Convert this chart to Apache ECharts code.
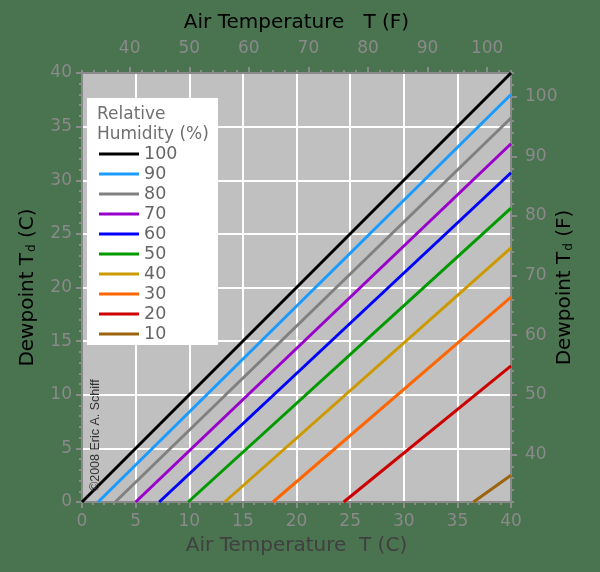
<!DOCTYPE html>
<html><head><meta charset="utf-8">
<script src="https://cdn.jsdelivr.net/npm/echarts@6/dist/echarts.min.js"></script>
<style>html,body{margin:0;padding:0;background:#4a7350}#c{width:600px;height:572px}</style>
</head><body><div id="c"></div>
<script>
// Relative humidity levels (legend order)
const rhLevels = ['100', '90', '80', '70', '60', '50', '40', '30', '20', '10'];
// Air temperature (C) where each line crosses dewpoint 0 C
const startT = [0, 1.5, 3.1, 5.0, 7.2, 9.9, 13.3, 17.8, 24.4, 36.5];
// Dewpoint (C) of each line at air temperature 40 C
const endTd = [40, 38.0, 35.8, 33.4, 30.7, 27.4, 23.7, 19.1, 12.7, 2.5];
const endT = 40;
const lineColors = ['#000000', '#1a9bff', '#808080', '#9900cc', '#0000ff', '#009900', '#cc9900', '#ff6600', '#cc0000', '#9c640c'];
// Fahrenheit tick labels and minor ticks
const fahrenheitLabels = [40, 50, 60, 70, 80, 90, 100];
const fahrenheitMinor = [32, 34, 36, 38, 40, 42, 44, 46, 48, 50, 52, 54, 56, 58, 60, 62, 64, 66, 68, 70, 72, 74, 76, 78, 80, 82, 84, 86, 88, 90, 92, 94, 96, 98, 100, 102, 104];

const FONT = 'DejaVu Sans';
const AX = '#8a8a8a';
const axLine = { show: true, lineStyle: { color: AX, width: 2 } };
const lbl = { color: AX, fontSize: 17, fontFamily: FONT };

const chart = echarts.init(document.getElementById('c'), null, { renderer: 'canvas' });

const series = rhLevels.map((rh, i) => ({
  name: rh,
  type: 'line',
  xAxisIndex: 0,
  yAxisIndex: 0,
  data: [[startT[i], 0], [endT, endTd[i]]],
  showSymbol: false,
  symbol: 'none',
  color: lineColors[i],
  lineStyle: { color: lineColors[i], width: 3 },
  animation: false,
  z: 3
}));

const cAxisBase = {
  type: 'value', min: 0, max: 40, interval: 5,
  axisLine: axLine,
  axisTick: { show: true, inside: false, length: 6, lineStyle: { color: AX, width: 2 } },
  minorTick: { show: true, splitNumber: 5, length: 3, lineStyle: { color: AX, width: 2 } },
  splitLine: { show: true, lineStyle: { color: '#ffffff', width: 2 } },
  minorSplitLine: { show: false }
};

const subRich = {
  sub: { fontSize: 12, fontFamily: FONT, color: '#000', verticalAlign: 'bottom', lineHeight: 12, padding: [0, 0, 0, 1] }
};

const option = {
  backgroundColor: '#4a7350',
  animation: false,
  grid: { left: 82, top: 73, width: 429, height: 429, show: true, backgroundColor: '#c0c0c0', borderWidth: 0, containLabel: false },
  legend: {
    data: rhLevels,
    orient: 'vertical',
    left: 99, top: 144,
    padding: 0,
    itemWidth: 40, itemHeight: 3, itemGap: 0,
    icon: 'rect',
    selectedMode: false,
    textStyle: { fontSize: 17.5, color: '#666666', fontFamily: FONT, lineHeight: 20 },
    z: 20
  },
  graphic: [
    { type: 'rect', left: 87, top: 98, shape: { width: 131, height: 247 }, style: { fill: '#ffffff' }, z: 10 },
    { type: 'text', left: 97, top: 105, style: { text: 'Relative\nHumidity (%)', fill: '#707070', font: '17px "DejaVu Sans"', lineHeight: 20 }, z: 21 },
    { type: 'text', x: 96, y: 491, rotation: Math.PI / 2, style: { text: '\u00a92008 Eric A. Schiff', fill: '#333333', font: '12.5px "Liberation Sans"', align: 'left', verticalAlign: 'middle' }, z: 21 }
  ],
  xAxis: [
    Object.assign({}, cAxisBase, {
      position: 'bottom',
      axisLabel: Object.assign({}, lbl, { margin: 11 }),
      name: 'Air Temperature  T (C)', nameLocation: 'middle', nameGap: 34,
      nameTextStyle: { color: '#404040', fontSize: 20, fontFamily: FONT }
    }),
    {
      type: 'value', position: 'top', min: 32, max: 104,
      axisLine: axLine,
      axisTick: { show: true, customValues: fahrenheitMinor, length: 3, lineStyle: { color: AX, width: 2 } },
      axisLabel: { show: false }, splitLine: { show: false }
    },
    {
      type: 'value', position: 'top', min: 32, max: 104,
      axisLine: axLine,
      axisTick: { show: true, customValues: fahrenheitLabels, length: 6, lineStyle: { color: AX, width: 2 } },
      axisLabel: Object.assign({}, lbl, { customValues: fahrenheitLabels, margin: 16 }),
      splitLine: { show: false },
      name: 'Air Temperature   T (F)', nameLocation: 'middle', nameGap: 40,
      nameTextStyle: { color: '#000000', fontSize: 20, fontFamily: FONT }
    }
  ],
  yAxis: [
    Object.assign({}, cAxisBase, {
      position: 'left',
      axisLabel: Object.assign({}, lbl, { margin: 10 }),
      name: 'Dewpoint T{sub|d} (C)', nameLocation: 'middle', nameGap: 44, nameRotate: 90,
      nameTextStyle: { color: '#000000', fontSize: 20, fontFamily: FONT, rich: subRich }
    }),
    {
      type: 'value', position: 'right', min: 32, max: 104,
      axisLine: axLine,
      axisTick: { show: true, customValues: fahrenheitMinor, length: 3, lineStyle: { color: AX, width: 2 } },
      axisLabel: { show: false }, splitLine: { show: false }
    },
    {
      type: 'value', position: 'right', min: 32, max: 104,
      axisLine: axLine,
      axisTick: { show: true, customValues: fahrenheitLabels, length: 6, lineStyle: { color: AX, width: 2 } },
      axisLabel: Object.assign({}, lbl, { customValues: fahrenheitLabels, margin: 14 }),
      splitLine: { show: false },
      name: 'Dewpoint T{sub|d} (F)', nameLocation: 'middle', nameGap: 44, nameRotate: 90, nameMoveOverlap: false,
      nameTextStyle: { color: '#000000', fontSize: 20, fontFamily: FONT, rich: subRich }
    }
  ],
  series: series
};
chart.setOption(option);
</script>
</body></html>
